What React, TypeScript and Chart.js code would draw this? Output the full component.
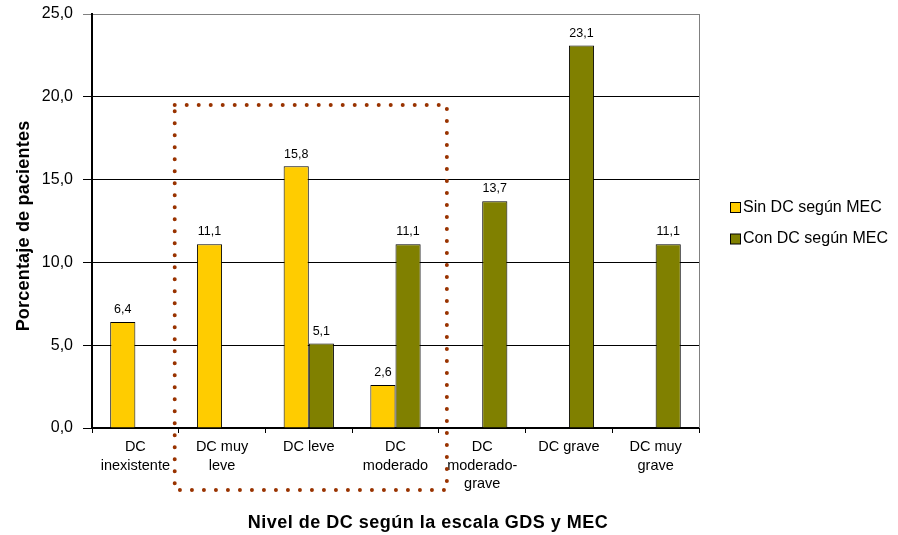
import React, { useEffect, useRef } from "react";
import { Chart, registerables } from "chart.js";

Chart.register(...registerables);

const categories: (string | string[])[] = [
  ["DC", "inexistente"],
  ["DC muy", "leve"],
  "DC leve",
  ["DC", "moderado"],
  ["DC", "moderado-", "grave"],
  "DC grave",
  ["DC muy", "grave"],
];
const sinDC: (number | null)[] = [6.4, 11.1, 15.8, 2.6, null, null, null];
const conDC: (number | null)[] = [null, null, 5.1, 11.1, 13.7, 23.1, 11.1];
const seriesNames = ["Sin DC según MEC", "Con DC según MEC"];
const seriesColors = ["#FFCC00", "#808000"];
const yTitle = "Porcentaje de pacientes";
const xTitle = "Nivel de DC según la escala GDS y MEC";
const highlightTop = 19.5;

const FONT = "'Liberation Sans', Arial, sans-serif";
const fmt = (v: number) => v.toFixed(1).replace(".", ",");

const decorPlugin = {
  id: "decor",
  afterDatasetsDraw(chart: any) {
    const { ctx, chartArea } = chart;
    const xs = chart.scales.x;
    const ys = chart.scales.y;
    ctx.save();
    // right border of plot
    ctx.strokeStyle = "#808080";
    ctx.lineWidth = 1;
    ctx.beginPath();
    ctx.moveTo(chartArea.right + 0.5, chartArea.top);
    ctx.lineTo(chartArea.right + 0.5, chartArea.bottom);
    ctx.stroke();

    // data labels
    ctx.fillStyle = "#000";
    ctx.font = `12.5px ${FONT}`;
    ctx.textAlign = "center";
    ctx.textBaseline = "bottom";
    chart.data.datasets.forEach((ds: any, di: number) => {
      const meta = chart.getDatasetMeta(di);
      meta.data.forEach((bar: any, i: number) => {
        const v = ds.data[i];
        if (v == null) return;
        ctx.fillText(fmt(v), bar.x, bar.y - 6);
      });
    });

    // dotted highlight rectangle
    const left = xs.getPixelForValue(0.5) - 4;
    const right = xs.getPixelForValue(3.5) + 8;
    const top = ys.getPixelForValue(highlightTop);
    const bottom = chartArea.bottom + 62;
    ctx.strokeStyle = "#993300";
    ctx.lineWidth = 4;
    ctx.lineCap = "round";
    ctx.setLineDash([0, 12]);
    ctx.beginPath();
    ctx.moveTo(left, top);
    ctx.lineTo(right, top);
    ctx.lineTo(right, bottom);
    ctx.lineTo(left, bottom);
    ctx.closePath();
    ctx.stroke();
    ctx.setLineDash([]);

    // axis titles
    ctx.fillStyle = "#000";
    ctx.font = `bold 18px ${FONT}`;
    ctx.textAlign = "center";
    ctx.textBaseline = "alphabetic";
    (ctx as any).letterSpacing = "0.5px";
    ctx.fillText(xTitle, 428, 528);
    (ctx as any).letterSpacing = "0.2px";
    ctx.save();
    ctx.translate(28.5, 226);
    ctx.rotate(-Math.PI / 2);
    ctx.fillText(yTitle, 0, 0);
    ctx.restore();
    (ctx as any).letterSpacing = "0px";

    // legend
    ctx.font = `16px ${FONT}`;
    ctx.textAlign = "left";
    ctx.textBaseline = "middle";
    seriesNames.forEach((name, i) => {
      const cy = 207.5 + i * 31.5;
      ctx.fillStyle = seriesColors[i];
      ctx.fillRect(730.5, cy - 5, 10, 10);
      ctx.strokeStyle = "#000";
      ctx.lineWidth = 1;
      ctx.strokeRect(730.5, cy - 5, 10, 10);
      ctx.fillStyle = "#000";
      ctx.fillText(name, 743, cy);
    });
    ctx.restore();
  },
};

export default function App() {
  const ref = useRef<HTMLCanvasElement>(null);
  useEffect(() => {
    document.body.style.margin = "0";
    if (!ref.current) return;
    const chart = new Chart(ref.current, {
      type: "bar",
      data: {
        labels: categories,
        datasets: [
          {
            label: seriesNames[0],
            data: sinDC,
            backgroundColor: seriesColors[0],
            borderColor: "#000",
            borderWidth: 1,
          },
          {
            label: seriesNames[1],
            data: conDC,
            backgroundColor: seriesColors[1],
            borderColor: "#000",
            borderWidth: 1,
          },
        ],
      },
      options: {
        animation: false,
        responsive: false,
        layout: { padding: { left: 0, top: 14, right: 199, bottom: 0 } },
        datasets: { bar: { categoryPercentage: 0.58, barPercentage: 1 } },
        plugins: { legend: { display: false }, tooltip: { enabled: false } },
        scales: {
          x: {
            afterFit: (s: any) => {
              s.height = 107;
              s.paddingLeft = 0;
              s.paddingRight = 0;
            },
            grid: {
              offset: true,
              drawOnChartArea: false,
              drawTicks: true,
              tickLength: 5,
              color: "#000",
            },
            border: { color: "#000", width: 2 },
            ticks: {
              color: "#000",
              font: { family: FONT, size: 14.5, lineHeight: 1.27 },
              padding: 5,
              maxRotation: 0,
              autoSkip: false,
            },
          },
          y: {
            min: 0,
            max: 25,
            afterFit: (s: any) => {
              s.width = 92;
              s.paddingTop = 0;
              s.paddingBottom = 0;
            },
            grid: {
              color: (c: any) => (c.tick && c.tick.value === 25 ? "#808080" : "#000"),
              tickLength: 9,
              lineWidth: 1,
            },
            border: { color: "#000", width: 2 },
            ticks: {
              stepSize: 5,
              color: "#000",
              font: { family: FONT, size: 16 },
              padding: 10,
              callback: (v: any) => fmt(Number(v)),
            },
          },
        },
      },
      plugins: [decorPlugin],
    });
    return () => chart.destroy();
  }, []);
  return (
    <div style={{ width: 898, height: 535 }}>
      <canvas ref={ref} width={898} height={535} style={{ display: "block" }} />
    </div>
  );
}
